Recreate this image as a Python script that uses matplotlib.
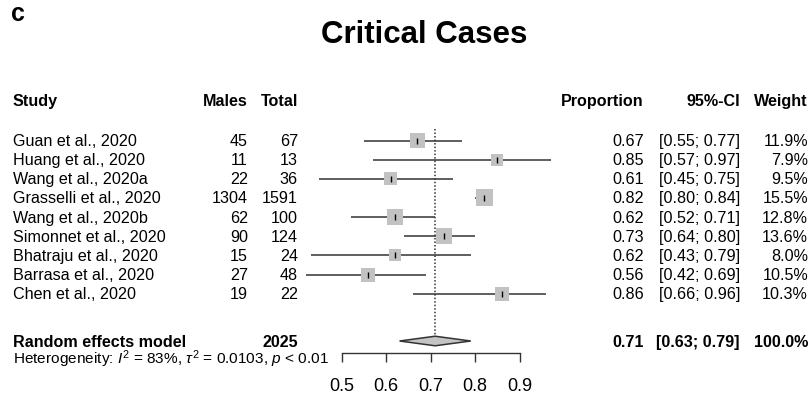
import matplotlib
matplotlib.use("Agg")
import matplotlib.pyplot as plt
from matplotlib.patches import Polygon
from matplotlib.transforms import blended_transform_factory
import numpy as np

plt.rcParams['font.family'] = ['Liberation Sans', 'DejaVu Sans']
plt.rcParams['mathtext.fontset'] = 'custom'
plt.rcParams['mathtext.rm'] = 'Liberation Sans'
plt.rcParams['mathtext.it'] = 'Liberation Sans:italic'

# per-study data
studies = ["Guan et al., 2020", "Huang et al., 2020", "Wang et al., 2020a",
           "Grasselli et al., 2020", "Wang et al., 2020b", "Simonnet et al., 2020",
           "Bhatraju et al., 2020", "Barrasa et al., 2020", "Chen et al., 2020"]
males = [45, 11, 22, 1304, 62, 90, 15, 27, 19]
totals = [67, 13, 36, 1591, 100, 124, 24, 48, 22]
prop = [0.67, 0.85, 0.61, 0.82, 0.62, 0.73, 0.62, 0.56, 0.86]
ci_low = [0.55, 0.57, 0.45, 0.80, 0.52, 0.64, 0.43, 0.42, 0.66]
ci_high = [0.77, 0.97, 0.75, 0.84, 0.71, 0.80, 0.79, 0.69, 0.96]
weight = [11.9, 7.9, 9.5, 15.5, 12.8, 13.6, 8.0, 10.5, 10.3]

# random effects summary
pooled = 0.71
pooled_low = 0.63
pooled_high = 0.79
pooled_total = 2025
i2 = 83
tau2 = 0.0103

xticks = [0.5, 0.6, 0.7, 0.8, 0.9]

W, H = 809, 402
fig = plt.figure(figsize=(W / 100, H / 100), dpi=100)

# forest panel: 0.5 -> x=341.7px, 445 px per unit; rows 19.15 px apart from y=141.5px
x0_px = 341.7 - 0.1 * 445
row0_px = 141.5
row_px = 19.15
top_row, bottom_row = -2.5, 11.10
ax_top = row0_px + top_row * row_px
ax_bot = row0_px + bottom_row * row_px
ax = fig.add_axes([x0_px / W, 1 - ax_bot / H, 0.6 * 445 / W, (ax_bot - ax_top) / H])
ax.set_xlim(0.4, 1.0)
ax.set_ylim(bottom_row, top_row)
ax.patch.set_alpha(0)

y = np.arange(len(studies))
header_y = -2.11
pooled_y = 10.47
het_y = 11.36

line_col = '#333333'
ax.hlines(y, ci_low, ci_high, color=line_col, lw=1.1, zorder=2)
side_pt = 4.3 * np.sqrt(weight) * 0.72
ax.scatter(prop, y, s=side_pt ** 2, marker='s', color='#c2c2c2', linewidths=0, zorder=3)
ax.plot(prop, y, '|', ms=5, mew=1.0, color='black', zorder=4)

# summary diamond and reference line
dh = 0.25
ax.add_patch(Polygon([(pooled_low, pooled_y), (pooled, pooled_y - dh),
                      (pooled_high, pooled_y), (pooled, pooled_y + dh)],
                     closed=True, facecolor='#c4c4c4', edgecolor=line_col, lw=1.1, zorder=3))
ax.vlines(pooled, -0.6, pooled_y - dh, colors=line_col, lw=1.1,
          linestyles=(0, (1, 1.3)), zorder=1)

for s in ['top', 'right', 'left']:
    ax.spines[s].set_visible(False)
ax.spines['bottom'].set_bounds(0.5, 0.9)
ax.spines['bottom'].set_color(line_col)
ax.spines['bottom'].set_linewidth(1.0)
ax.set_yticks([])
ax.set_xticks(xticks)
ax.set_xticklabels([f"{t:.1f}" for t in xticks])
ax.tick_params(axis='x', direction='out', length=6.5, width=1.0, color=line_col,
               pad=10.5, labelsize=13, labelcolor='black')

# text columns
tr = blended_transform_factory(fig.transFigure, ax.transData)


def put(px, yy, s, ha='left', bold=False, size=11.6):
    ax.text(px / W, yy, s, transform=tr, ha=ha, va='center', fontsize=size,
            fontweight='bold' if bold else 'normal', color='black', clip_on=False)


put(13, header_y, "Study", bold=True)
put(248, header_y, "Males", ha='right', bold=True)
put(298, header_y, "Total", ha='right', bold=True)
put(644, header_y, "Proportion", ha='right', bold=True)
put(740, header_y, "95%-CI", ha='right', bold=True)
put(808, header_y, "Weight", ha='right', bold=True)

for i in range(len(studies)):
    put(13, y[i], studies[i])
    put(248, y[i], str(males[i]), ha='right')
    put(298, y[i], str(totals[i]), ha='right')
    put(644, y[i], f"{prop[i]:.2f}", ha='right')
    put(740, y[i], f"[{ci_low[i]:.2f}; {ci_high[i]:.2f}]", ha='right')
    put(808, y[i], f"{weight[i]:.1f}%", ha='right')

put(13, pooled_y, "Random effects model", bold=True)
put(298, pooled_y, str(pooled_total), ha='right', bold=True)
put(644, pooled_y, f"{pooled:.2f}", ha='right', bold=True)
put(740, pooled_y, f"[{pooled_low:.2f}; {pooled_high:.2f}]", ha='right', bold=True)
put(808, pooled_y, "100.0%", ha='right', bold=True)
put(13, het_y, rf"Heterogeneity: $I^2$ = {i2}%, $\tau^2$ = {tau2}, $p$ < 0.01", size=11.1)

fig.text(424 / W, 1 - 43 / H, "Critical Cases", ha='center', va='baseline',
         fontsize=22.5, fontweight='bold')
fig.text(11 / W, 1 - 21 / H, "c", ha='left', va='baseline', fontsize=18, fontweight='bold')

fig.savefig("out.png", dpi=100)
